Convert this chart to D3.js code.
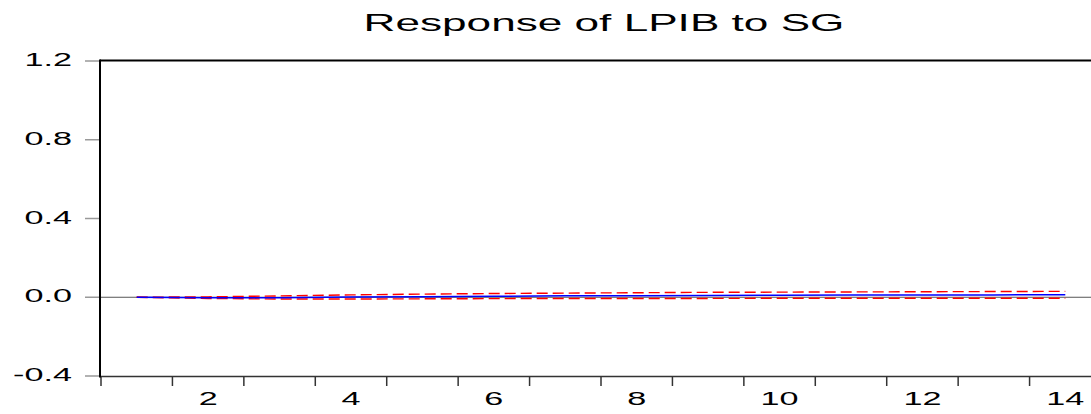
<!DOCTYPE html>
<html>
<head>
<meta charset="utf-8">
<script src="https://cdn.jsdelivr.net/npm/d3@7"></script>
<style>
  html, body { margin: 0; padding: 0; background: #fff; }
  text { font-family: "Liberation Sans", Arial, sans-serif; fill: #000; }
</style>
</head>
<body>
<svg id="chart"></svg>
<script>
document.addEventListener("DOMContentLoaded", function() {

    // svg size
    var width = 1091;
    var height = 414;

    // data
    var periods = [1, 2, 3, 4, 5, 6, 7, 8, 9, 10, 11, 12, 13, 14];
    var response = [0, -0.002, -0.002, 0.001, 0.003, 0.005, 0.007, 0.008, 0.009, 0.010, 0.011, 0.012, 0.012, 0.013];
    var upper = [0, 0.002, 0.007, 0.012, 0.016, 0.019, 0.021, 0.023, 0.025, 0.026, 0.027, 0.028, 0.029, 0.030];
    var lower = [0, -0.006, -0.009, -0.009, -0.008, -0.007, -0.006, -0.006, -0.006, -0.005, -0.005, -0.005, -0.005, -0.005];
    var yTicks = [-0.4, 0.0, 0.4, 0.8, 1.2];
    var xLabels = [2, 4, 6, 8, 10, 12, 14];
    var title = "Response of LPIB to SG";

    var left = 100, top = 61, bottom = 376;
    var stretch = 1.9; // text is drawn wide in the original

    // plain hyphen for negatives, like the original
    var fmt = d3.formatLocale({decimal: ".", thousands: ",", grouping: [3], currency: ["", ""], minus: "-"}).format(".1f");

    var svg = d3.select("#chart")
        .attr("width", width)
        .attr("height", height);

    var xScale = d3.scaleBand()
        .domain(periods)
        .range([101, 1101]);

    var yScale = d3.scaleLinear()
        .domain([-0.4, 1.2])
        .range([bottom, top]);

    // title
    svg.append("text")
        .attr("transform", "translate(604,31) scale(1.84,1)")
        .attr("text-anchor", "middle")
        .style("font-size", "24px")
        .text(title);

    // zero line
    svg.append("line")
        .attr("x1", left).attr("x2", width)
        .attr("y1", yScale(0)).attr("y2", yScale(0))
        .attr("stroke", "#555")
        .attr("stroke-width", 1);

    // y ticks and labels
    svg.selectAll(".ytick")
        .data(yTicks)
        .enter()
        .append("line")
          .attr("class", "ytick")
          .attr("x1", 85).attr("x2", left)
          .attr("y1", d => yScale(d)).attr("y2", d => yScale(d))
          .attr("stroke", "#999")
          .attr("stroke-width", 1.5);

    svg.selectAll(".ylab")
        .data(yTicks)
        .enter()
        .append("text")
          .attr("class", "ylab")
          .attr("text-anchor", "end")
          .attr("transform", d => `translate(72,${yScale(d) + 5}) scale(${stretch},1)`)
          .style("font-size", "18px")
          .text(d => fmt(d));

    // x ticks at band edges, labels at band centres
    svg.selectAll(".xtick")
        .data(periods)
        .enter()
        .append("line")
          .attr("class", "xtick")
          .attr("x1", d => xScale(d)).attr("x2", d => xScale(d))
          .attr("y1", bottom).attr("y2", bottom + 10)
          .attr("stroke", "#333")
          .attr("stroke-width", 1.5);

    svg.selectAll(".xlab")
        .data(xLabels)
        .enter()
        .append("text")
          .attr("class", "xlab")
          .attr("text-anchor", "middle")
          .attr("transform", d => `translate(${xScale(d) + xScale.bandwidth() / 2},405) scale(${stretch},1)`)
          .style("font-size", "18px")
          .text(d => d);

    // frame: top, left, bottom
    svg.append("line")
        .attr("x1", left).attr("x2", width)
        .attr("y1", top - 0.5).attr("y2", top - 0.5)
        .attr("stroke", "#000").attr("stroke-width", 2);
    svg.append("line")
        .attr("x1", left).attr("x2", width)
        .attr("y1", bottom + 0.5).attr("y2", bottom + 0.5)
        .attr("stroke", "#333").attr("stroke-width", 1.5);
    svg.append("line")
        .attr("x1", left).attr("x2", left)
        .attr("y1", top - 1.5).attr("y2", bottom + 1.5)
        .attr("stroke", "#000").attr("stroke-width", 2);

    // series lines
    var line = d3.line()
        .x((d, i) => xScale(periods[i]) + xScale.bandwidth() / 2)
        .y(d => yScale(d));

    svg.append("path")
        .attr("d", line(upper))
        .attr("fill", "none")
        .attr("stroke", "#ff0000")
        .attr("stroke-width", 1.4)
        .attr("stroke-dasharray", "11,5");

    svg.append("path")
        .attr("d", line(lower))
        .attr("fill", "none")
        .attr("stroke", "#ff0000")
        .attr("stroke-width", 1.4)
        .attr("stroke-dasharray", "11,5");

    svg.append("path")
        .attr("d", line(response))
        .attr("fill", "none")
        .attr("stroke", "#0000ff")
        .attr("stroke-width", 1.5);
});
</script>
</body>
</html>
